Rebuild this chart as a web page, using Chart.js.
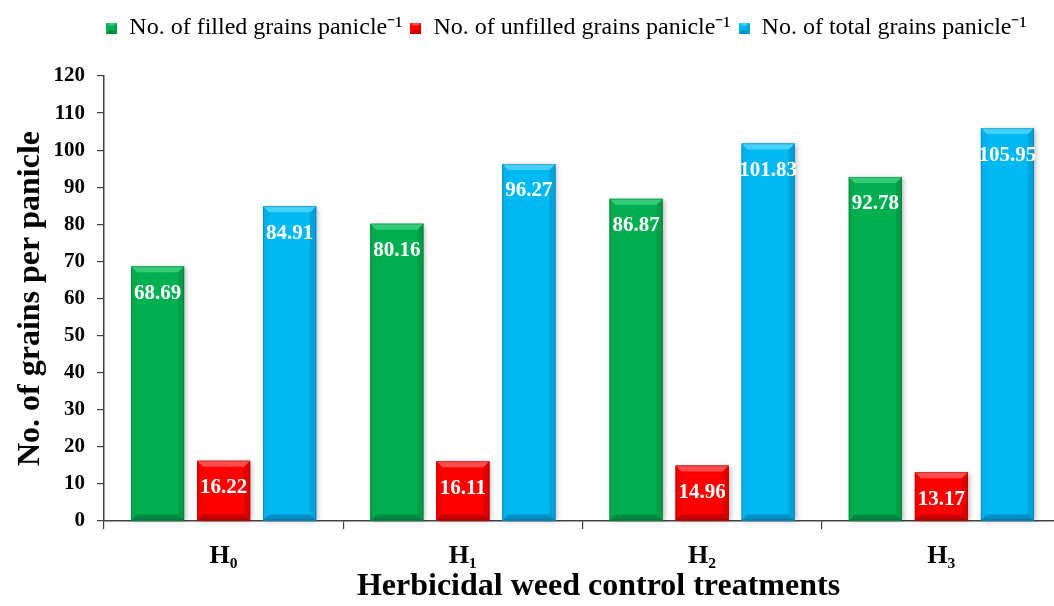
<!DOCTYPE html>
<html>
<head>
<meta charset="utf-8">
<script src="https://cdn.jsdelivr.net/npm/chart.js@4.4.1/dist/chart.umd.min.js"></script>
<style>
  html, body { margin: 0; padding: 0; background: #fff; overflow: hidden; }
  #wrap { width: 1062px; height: 606px; }
</style>
</head>
<body>
<div id="wrap"><canvas id="c" width="1062" height="606"></canvas></div>
<script>
// Treatments and grain counts per panicle
const treatments = ['H\u2080', 'H\u2081', 'H\u2082', 'H\u2083'];
const filledGrains = [68.69, 80.16, 86.87, 92.78];
const unfilledGrains = [16.22, 16.11, 14.96, 13.17];
const totalGrains = [84.91, 96.27, 101.83, 105.95];
const seriesNames = [
  'No. of filled grains panicle\u207B\u00B9',
  'No. of unfilled grains panicle\u207B\u00B9',
  'No. of total grains panicle\u207B\u00B9'
];

const SERIF = "'Liberation Serif', 'Times New Roman', serif";

// Base, top-light, side and bottom shades for the bevelled bars
const shades = [
  { base: '#00B050', top: '#34CC78', left: '#06A84C', right: '#009C46', bottom: '#008840' },
  { base: '#FF0000', top: '#FF4C4C', left: '#F20000', right: '#DE0000', bottom: '#C40000' },
  { base: '#00B8F2', top: '#45D0FF', left: '#06B0EA', right: '#00A2DA', bottom: '#008EC4' }
];

// Soft drop shadow behind each bar
const barShadow = {
  id: 'barShadow',
  beforeDatasetsDraw(chart) {
    const ctx = chart.ctx;
    ctx.save();
    chart.data.datasets.forEach((ds, i) => {
      chart.getDatasetMeta(i).data.forEach(bar => {
        const p = bar.getProps(['x', 'y', 'base', 'width'], true);
        ctx.shadowColor = 'rgba(0,0,0,0.3)';
        ctx.shadowBlur = 5;
        ctx.shadowOffsetX = 2;
        ctx.shadowOffsetY = 1;
        ctx.fillStyle = shades[i].base;
        ctx.fillRect(p.x - p.width / 2, p.y, p.width, p.base - p.y);
      });
    });
    ctx.restore();
  }
};

// Bevel edges drawn over each bar, then the value label near the top
const bevelAndLabels = {
  id: 'bevelAndLabels',
  afterDatasetsDraw(chart) {
    const ctx = chart.ctx;
    const b = 6;
    ctx.save();
    chart.data.datasets.forEach((ds, i) => {
      const sh = shades[i];
      chart.getDatasetMeta(i).data.forEach((bar, j) => {
        const p = bar.getProps(['x', 'y', 'base', 'width'], true);
        const l = p.x - p.width / 2, r = p.x + p.width / 2, t = p.y, bt = p.base;
        const poly = (pts, col) => {
          ctx.beginPath();
          ctx.moveTo(pts[0][0], pts[0][1]);
          for (let k = 1; k < pts.length; k++) ctx.lineTo(pts[k][0], pts[k][1]);
          ctx.closePath();
          ctx.fillStyle = col;
          ctx.fill();
        };
        poly([[l, t], [l + b, t + b], [l + b, bt - b], [l, bt]], sh.left);
        poly([[r, t], [r - b, t + b], [r - b, bt - b], [r, bt]], sh.right);
        poly([[l, bt], [l + b, bt - b], [r - b, bt - b], [r, bt]], sh.bottom);
        poly([[l, t], [r, t], [r - b, t + b], [l + b, t + b]], sh.top);
        // thin darker outline along the edges
        ctx.strokeStyle = 'rgba(0,0,0,0.18)';
        ctx.lineWidth = 1;
        ctx.strokeRect(l + 0.5, t + 0.5, p.width - 1, bt - t - 1);

        ctx.fillStyle = '#FFFFFF';
        ctx.font = 'bold 21px ' + SERIF;
        ctx.textAlign = 'center';
        ctx.textBaseline = 'middle';
        ctx.fillText(ds.data[j].toFixed(2), p.x, t + 27);
      });
    });
    ctx.restore();
  }
};

// Extra space under the legend and a rightward shift of its row
const legendPlacement = {
  id: 'legendPlacement',
  afterInit(chart) {
    const lg = chart.legend;
    if (!lg || lg._placed) return;
    const fit = lg.fit;
    lg.fit = function () { fit.call(this); this.height += 26; };
    lg._placed = true;
  },
  afterLayout(chart) {
    const lg = chart.legend;
    lg.left += 36;
    lg.right += 36;
  }
};

// Small bevelled squares for the legend markers
function legendSquare(sh) {
  const s = 11, c = document.createElement('canvas');
  c.width = s; c.height = s;
  const g = c.getContext('2d');
  g.fillStyle = sh.base; g.fillRect(0, 0, s, s);
  g.fillStyle = sh.top;
  g.beginPath(); g.moveTo(0, 0); g.lineTo(s, 0); g.lineTo(s - 3, 3); g.lineTo(3, 3); g.closePath(); g.fill();
  g.fillStyle = sh.bottom;
  g.beginPath(); g.moveTo(0, s); g.lineTo(s, s); g.lineTo(s - 3, s - 3); g.lineTo(3, s - 3); g.closePath(); g.fill();
  g.fillStyle = sh.right;
  g.beginPath(); g.moveTo(s, 0); g.lineTo(s, s); g.lineTo(s - 3, s - 3); g.lineTo(s - 3, 3); g.closePath(); g.fill();
  return c;
}

const seriesValues = [filledGrains, unfilledGrains, totalGrains];

new Chart(document.getElementById('c'), {
  type: 'bar',
  data: {
    labels: treatments,
    datasets: seriesValues.map((vals, i) => ({
      label: seriesNames[i],
      data: vals,
      backgroundColor: shades[i].base,
      borderWidth: 0,
      barPercentage: 0.803,
      categoryPercentage: 0.828,
      pointStyle: legendSquare(shades[i])
    }))
  },
  options: {
    responsive: false,
    animation: false,
    layout: { padding: { top: 8, right: 1, left: 0, bottom: 0 } },
    plugins: {
      legend: {
        position: 'top',
        labels: {
          usePointStyle: true,
          boxWidth: 11,
          boxHeight: 11,
          color: '#000',
          padding: 8,
          font: { family: SERIF, size: 24 }
        }
      },
      tooltip: { enabled: false }
    },
    scales: {
      x: {
        grid: { drawOnChartArea: false, drawTicks: true, tickLength: 8, offset: true, color: '#404040', lineWidth: 1.2 },
        border: { display: true, color: '#404040', width: 1.5 },
        ticks: { color: '#000', padding: 12, font: { family: SERIF, size: 26, weight: 'bold' } },
        title: {
          display: true,
          text: '\u2002\u2002Herbicidal weed control treatments',
          color: '#000',
          padding: { top: 7, bottom: 0 },
          font: { family: SERIF, size: 32, weight: 'bold' }
        },
        afterFit(scale) { scale.height = 85; }
      },
      y: {
        min: 0,
        max: 120,
        ticks: { stepSize: 10, color: '#000', padding: 12, font: { family: SERIF, size: 21, weight: 'bold' } },
        grid: { drawOnChartArea: false, drawTicks: true, tickLength: 7, color: '#404040', lineWidth: 1.2 },
        border: { display: true, color: '#404040', width: 1.5 },
        title: {
          display: true,
          text: 'No. of grains per panicle',
          color: '#000',
          padding: { top: 12, bottom: 0 },
          font: { family: SERIF, size: 32, weight: 'bold' }
        },
        afterFit(scale) { scale.width = 104; }
      }
    }
  },
  plugins: [legendPlacement, barShadow, bevelAndLabels]
});
</script>
</body>
</html>
